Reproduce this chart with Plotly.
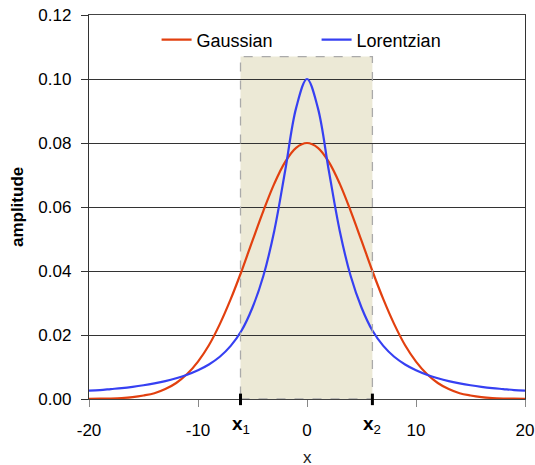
import plotly.graph_objects as go

x_vals = list(range(-20, 21))
gauss_half = [0.0800, 0.0785, 0.0741, 0.0673, 0.0588, 0.0495, 0.0400, 0.0312, 0.0234,
              0.0168, 0.0117, 0.0078, 0.0050, 0.0031, 0.0018, 0.0011, 0.0006, 0.0003,
              0.00016, 0.0001, 0.00005]
lorentz_half = [0.1000, 0.0909, 0.0714, 0.0526, 0.0385, 0.0286, 0.0214, 0.0166, 0.0132,
                0.0108, 0.0090, 0.0076, 0.0065, 0.0056, 0.0049, 0.0043, 0.0038, 0.0034,
                0.0031, 0.0028, 0.0026]
gaussian = gauss_half[::-1] + gauss_half[1:]
lorentzian = lorentz_half[::-1] + lorentz_half[1:]

x1_val, x2_val = -6.1, 6.0
shade_top = 0.107
x_ticks = [-20, -10, 0, 10, 20]
y_ticks = [0.00, 0.02, 0.04, 0.06, 0.08, 0.10, 0.12]

FONT = "Liberation Sans, Arial, sans-serif"
RED = "#E2400F"
BLUE = "#3640F2"

fig = go.Figure()
fig.add_trace(go.Scatter(x=x_vals, y=gaussian, mode="lines", name="Gaussian",
                         line=dict(color=RED, width=2.2, shape="spline")))
fig.add_trace(go.Scatter(x=x_vals, y=lorentzian, mode="lines", name="Lorentzian",
                         line=dict(color=BLUE, width=2.2, shape="spline")))

# shaded region
fig.add_shape(type="rect", x0=x1_val, x1=x2_val, y0=0, y1=shade_top, layer="below",
              fillcolor="#ECE9D6", line=dict(width=0))
fig.add_shape(type="line", x0=x1_val, x1=x2_val, y0=0, y1=0, layer="above",
              line=dict(color="#ECE9D6", width=2))
fig.add_shape(type="rect", x0=x1_val, x1=x2_val, y0=0, y1=shade_top, layer="above",
              fillcolor="rgba(0,0,0,0)", line=dict(color="#AAAAAA", width=1.3, dash="dash"))
# bold marks at x1, x2
for xv in (x1_val, x2_val):
    fig.add_shape(type="line", x0=xv, x1=xv, xref="x", yref="paper", y0=-0.016, y1=0.014,
                  layer="above", line=dict(color="black", width=3))

for xv, lab in ((x1_val, "<b>x</b><sub>1</sub>"), (x2_val, "<b>x</b><sub>2</sub>")):
    fig.add_annotation(x=xv, y=-0.068, xref="x", yref="paper", showarrow=False,
                       xanchor="center", yanchor="middle",
                       text=lab, font=dict(family=FONT, size=19, color="black"))
fig.add_annotation(x=0.5, y=-0.153, xref="paper", yref="paper", showarrow=False,
                   xanchor="center", yanchor="middle",
                   text="x", font=dict(family=FONT, size=17, color="#222"))
fig.add_annotation(x=-0.165, y=0.5, xref="paper", yref="paper", showarrow=False,
                   xanchor="center", yanchor="middle",
                   text="<b>amplitude</b>", textangle=-90,
                   font=dict(family=FONT, size=17, color="black"))

fig.update_layout(
    width=535, height=465,
    margin=dict(l=89, r=10, t=15, b=66, autoexpand=False),
    paper_bgcolor="white", plot_bgcolor="white",
    font=dict(family=FONT, size=17, color="black"),
    showlegend=True,
    legend=dict(orientation="h", x=0.155, y=0.935, xanchor="left", yanchor="middle",
                bgcolor="rgba(0,0,0,0)", font=dict(family=FONT, size=18),
                itemwidth=30, tracegroupgap=0, entrywidth=115),
    xaxis=dict(range=[-20, 20], tickvals=x_ticks, ticktext=[str(v) for v in x_ticks],
               showgrid=False, zeroline=False, showline=True, mirror=True,
               linecolor="#444", linewidth=1.3, ticks="outside", ticklen=7,
               tickcolor="#888", tickwidth=1.3, ticklabelstandoff=8, automargin=False),
    yaxis=dict(range=[0, 0.12], tickvals=y_ticks, ticktext=[f"{v:.2f}" for v in y_ticks],
               showgrid=True, gridcolor="#333", gridwidth=1.1, zeroline=False,
               showline=True, mirror=True, linecolor="#333", linewidth=1.3,
               ticks="outside", ticklen=7, tickcolor="#333", tickwidth=1.3,
               ticklabelstandoff=6, automargin=False),
)

fig.write_html("out.html")
